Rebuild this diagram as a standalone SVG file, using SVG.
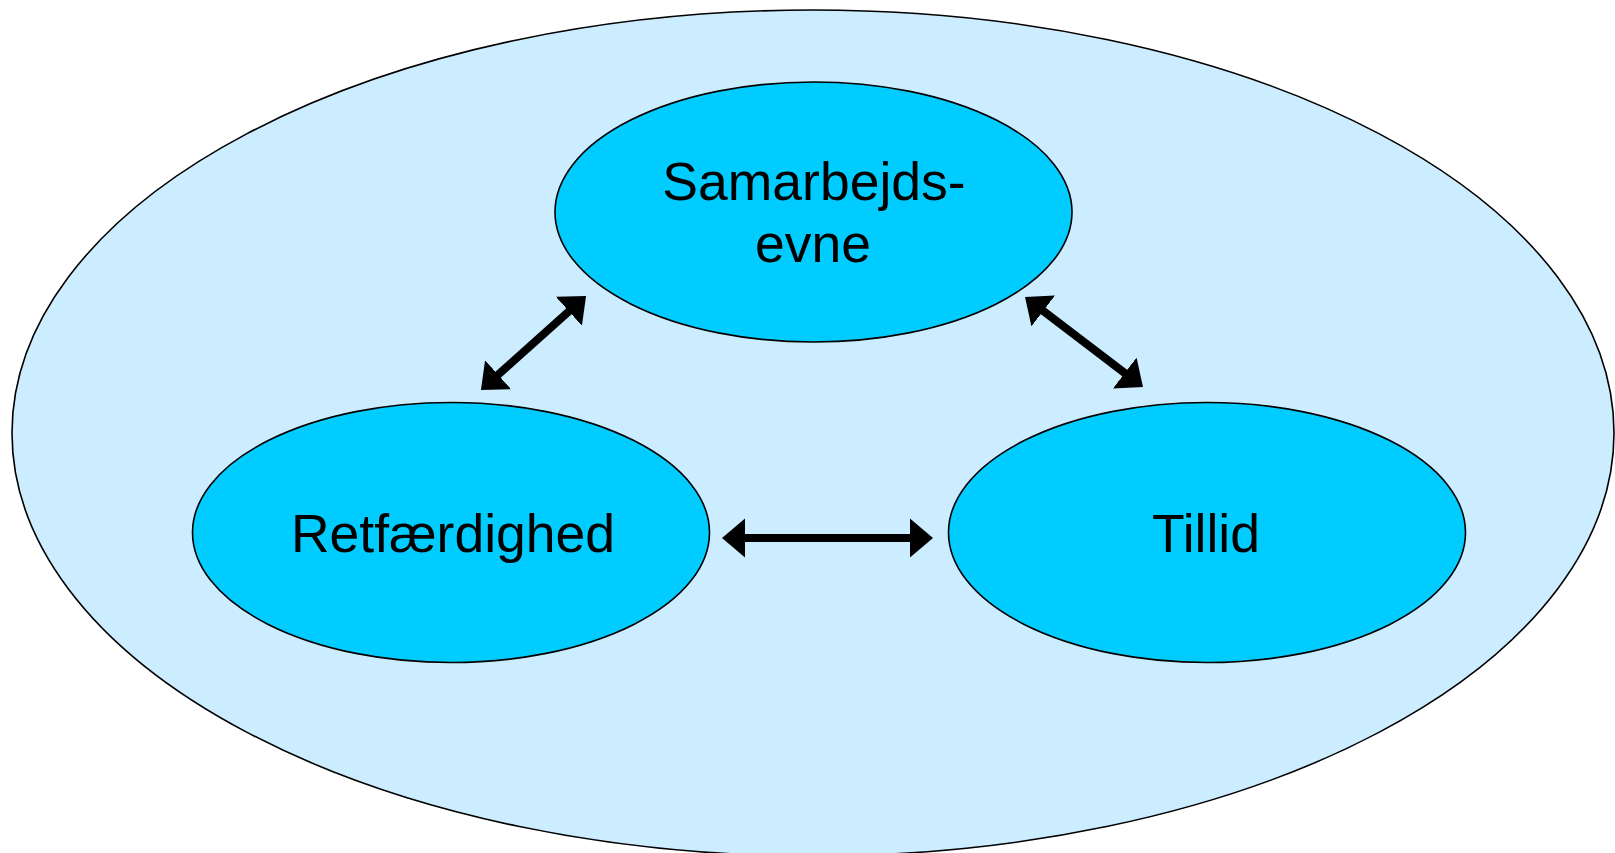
<svg xmlns="http://www.w3.org/2000/svg" width="1615" height="853" viewBox="0 0 1615 853">
  <style>
    .outer { fill: #CCECFF; stroke: #000; stroke-width: 1.6; }
    .node { fill: #00CCFF; stroke: #000; stroke-width: 1.6; }
    .lbl { font-family: "Liberation Sans", Arial, sans-serif; font-size: 53.5px; fill: #000; text-anchor: middle; }
    .conn { stroke: #000; stroke-width: 8; fill: none; marker-start: url(#ah); marker-end: url(#ah); }
  </style>
  <defs>
    <marker id="ah" markerUnits="userSpaceOnUse" viewBox="0 -20 23 40" refX="2" refY="0" markerWidth="23" markerHeight="40" orient="auto-start-reverse">
      <path d="M0,-19.5 L23,0 L0,19.5 Z" fill="#000"/>
    </marker>
  </defs>
  <rect width="1615" height="853" fill="#fff"/>
  <g id="outer">
    <ellipse class="outer" cx="813" cy="433" rx="801" ry="423"/>
  </g>
  <g id="node-samarbejdsevne">
    <ellipse class="node" cx="813.5" cy="212" rx="258.5" ry="130"/>
    <text class="lbl" x="814" y="200">Samarbejds-</text>
    <text class="lbl" x="813" y="262">evne</text>
  </g>
  <g id="node-retfaerdighed">
    <ellipse class="node" cx="451" cy="532.5" rx="258.5" ry="130"/>
    <text class="lbl" x="453" y="552">Retfærdighed</text>
  </g>
  <g id="node-tillid">
    <ellipse class="node" cx="1207" cy="532.5" rx="258.5" ry="130"/>
    <text class="lbl" x="1206" y="552">Tillid</text>
  </g>
  <g id="connectors">
    <line class="conn" x1="496.6" y1="376" x2="570.4" y2="310"/>
    <line class="conn" x1="1041.7" y1="309.7" x2="1126.3" y2="374.3"/>
    <line class="conn" x1="743" y1="538" x2="912" y2="538"/>
  </g>
</svg>
